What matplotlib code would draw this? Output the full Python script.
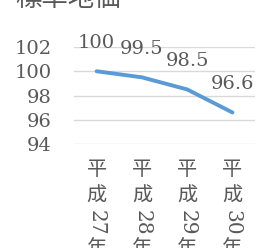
import matplotlib
matplotlib.use('Agg')
import matplotlib.pyplot as plt

# Data
categories = ['平成27年', '平成28年', '平成29年', '平成30年']
values = [100, 99.5, 98.5, 96.6]
value_labels = ['100', '99.5', '98.5', '96.6']
yticks = [94, 96, 98, 100, 102]
title = '標準地価'

gray = '#595959'
cjk = ['Noto Sans CJK JP', 'DejaVu Sans']
serif = 'DejaVu Serif'

fig = plt.figure(figsize=(2.74, 2.48), dpi=100)
ax = fig.add_axes([0.270, 0.4194, 0.661, 0.391])

x = list(range(len(categories)))
ax.plot(x, values, color='#5B9BD5', linewidth=2.8, solid_capstyle='round',
        solid_joinstyle='round', zorder=3)

ax.set_xlim(-0.5, len(categories) - 0.5)
ax.set_ylim(94, 102)
ax.set_yticks(yticks)
ax.set_yticklabels([str(t) for t in yticks], fontsize=14, family=serif, color=gray)
ax.tick_params(axis='y', length=0, pad=16)
ax.set_xticks([])
ax.grid(axis='y', color='#D9D9D9', linewidth=1)
ax.set_axisbelow(True)
for s in ax.spines.values():
    s.set_visible(False)

# data labels
for xi, v, lab in zip(x, values, value_labels):
    ax.annotate(lab, xy=(xi, v), xytext=(0, 28), textcoords='offset pixels',
                ha='center', va='center', fontsize=14, family=serif, color=gray)

# vertical category labels (upright kanji, rotated digits)
for xi, cat in zip(x, categories):
    parts = [(cat[0], 26, 0, cjk, 14.5), (cat[1], 52, 0, cjk, 14.5),
             (cat[2:4], 79, -90, serif, 14.5), (cat[4], 105, 0, cjk, 14.5)]
    for txt, dy, rot, fam, fs in parts:
        ax.annotate(txt, xy=(xi, 94), xytext=(0, -dy), textcoords='offset pixels',
                    ha='center', va='center', rotation=rot, fontsize=fs,
                    family=fam, color=gray, annotation_clip=False)

fig.text(15 / 274, 1 - 6 / 248, title, family=cjk, fontsize=19, color=gray,
         ha='left', va='baseline')

fig.savefig('out.png', dpi=100)
